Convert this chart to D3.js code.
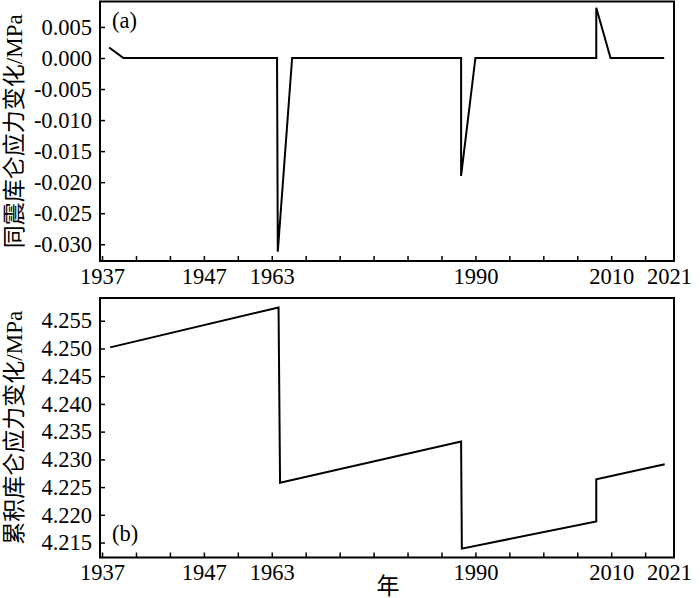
<!DOCTYPE html>
<html>
<head>
<meta charset="utf-8">
<title>库仑应力变化</title>
<script src="https://d3js.org/d3.v7.min.js"></script>
<style>
body { margin: 0; background: #fff; }
.axis path { display: none; }
.axis line { stroke: #000; stroke-width: 1.5; }
.frame { fill: none; stroke: #000; stroke-width: 2; }
.line { fill: none; stroke: #000; stroke-width: 2; stroke-linejoin: miter; }
</style>
</head>
<body>
<script>
// x axis: uneven year labels on evenly spaced tick marks
var labelYears = [1937, 1947, 1963, 1990, 2010, 2021];
var labelSlots = [0, 3, 5, 11, 15, 16.7];
var minorSlots = d3.range(0, 17);

// (a) coseismic Coulomb stress change
var yearsA = [1937.7, 1939.1, 1963.7, 1963.8, 1965.7, 1988.1, 1988.1, 1990, 2007.8, 2007.8, 2009.9, 2020.1];
var valuesA = [0.0017, 0, 0, -0.0312, 0, 0, -0.0190, 0, 0, 0.0081, 0, 0];
var ticksA = [0.005, 0, -0.005, -0.010, -0.015, -0.020, -0.025, -0.030];

// (b) cumulative Coulomb stress change
var yearsB = [1937.8, 1963.9, 1964.1, 1988.1, 1988.2, 2007.8, 2007.8, 2020.2];
var valuesB = [4.2502, 4.2574, 4.2258, 4.2332, 4.2139, 4.2188, 4.2264, 4.2291];
var ticksB = [4.255, 4.250, 4.245, 4.240, 4.235, 4.230, 4.225, 4.220, 4.215];

var W = 700, H = 598;
var left = 100, w = 574;
var serif = "'Liberation Serif', 'Times New Roman', Times, 'Noto Sans CJK SC', serif";

var svg = d3.select("body").append("svg").attr("width", W).attr("height", H)
	.attr("font-family", serif);

var slot = d3.scaleLinear().domain(labelYears).range(labelSlots);
var x = d3.scaleLinear().domain([-0.06, 16.85]).range([0, w]);

function fmt(d) { return d3.format(".3f")(d).replace("\u2212", "-"); }

function panel(top, h, yDomain, yTicks, years, values, tag, tagY, title) {
	var g = svg.append("g").attr("transform", "translate(" + left + "," + top + ")");
	var y = d3.scaleLinear().domain(yDomain).range([h, 0]);

	g.append("g").attr("class", "axis").call(
		d3.axisLeft(y).tickValues(yTicks).tickFormat(fmt).tickSizeInner(-5).tickPadding(8));

	// minor marks on every slot, labels on chosen years
	g.append("g").attr("class", "axis").attr("transform", "translate(0," + h + ")")
		.call(d3.axisBottom(x).tickValues(minorSlots).tickFormat("").tickSizeInner(-5));
	g.append("g").attr("class", "axis").attr("transform", "translate(0," + h + ")")
		.call(d3.axisBottom(x).tickValues(labelSlots).tickFormat(function(d, i) { return labelYears[i]; })
			.tickSizeInner(0).tickPadding(7));

	g.selectAll(".axis").attr("font-family", serif).attr("font-size", 22.5);
	g.selectAll(".axis text").attr("fill", "#000");

	var line = d3.line()
		.x(function(d) { return x(slot(d[0])); })
		.y(function(d) { return y(d[1]); });
	g.append("path").attr("class", "line")
		.attr("d", line(years.map(function(yr, i) { return [yr, values[i]]; })));

	g.append("rect").attr("class", "frame").attr("width", w).attr("height", h);

	g.append("text").attr("x", 12).attr("y", tagY).attr("font-size", 22.5).text(tag);

	svg.append("text")
		.attr("transform", "translate(22," + (top + h / 2) + ") rotate(-90)")
		.attr("text-anchor", "middle").attr("font-size", 23).text(title);
}

panel(1.5, 259.5, [-0.0327, 0.0091], ticksA, yearsA, valuesA, "(a)", 26, "同震库仑应力变化/MPa");
panel(298, 259.5, [4.2123, 4.2591], ticksB, yearsB, valuesB, "(b)", 243, "累积库仑应力变化/MPa");

svg.append("text").attr("x", 388).attr("y", 594).attr("text-anchor", "middle")
	.attr("font-size", 23).text("年");
</script>
</body>
</html>
